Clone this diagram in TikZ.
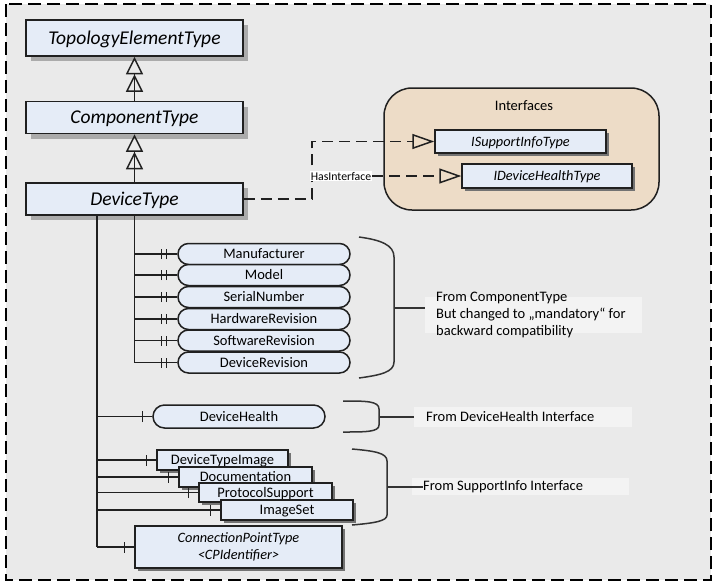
\documentclass[tikz,border=0pt]{standalone}
\usepackage{fontspec}
\setmainfont{Carlito}
\usetikzlibrary{arrows.meta,shadows,decorations.markings}
\definecolor{bg}{HTML}{EAEAEA}
\definecolor{boxfill}{HTML}{E5ECF7}
\definecolor{ifill}{HTML}{EDDCC7}
\definecolor{notefill}{HTML}{F3F3F3}
\definecolor{edgec}{HTML}{202020}
\definecolor{bracec}{HTML}{333333}
\tikzset{
  outer/.style={draw=black, fill=bg, line width=1.7pt, dash pattern=on 13pt off 6pt},
  typebox/.style={draw=edgec, line width=1.5pt, fill=boxfill, inner sep=0pt,
    minimum width=217pt, font=\fontsize{19.5}{22}\selectfont\itshape,
    text height=12.5pt, text depth=0pt,
    drop shadow={shadow xshift=5pt, shadow yshift=-5pt, fill=black!33, opacity=1}},
  ibox/.style={draw=edgec, line width=1.5pt, fill=boxfill, inner sep=0pt,
    font=\fontsize{14.3}{16}\selectfont\itshape, text height=9.2pt, text depth=0pt,
    drop shadow={shadow xshift=3pt, shadow yshift=-3pt, fill=black!55, opacity=1}},
  smallbox/.style={draw=edgec, line width=1.5pt, fill=boxfill, inner sep=0pt,
    font=\fontsize{14.5}{16}\selectfont, text height=9.3pt, text depth=0pt,
    drop shadow={shadow xshift=3pt, shadow yshift=-3pt, fill=black!55, opacity=1}},
  cptbox/.style={draw=edgec, line width=1.5pt, fill=boxfill, inner sep=0pt, align=center,
    font=\fontsize{14.3}{16.5}\selectfont\itshape,
    drop shadow={shadow xshift=3pt, shadow yshift=-3pt, fill=black!55, opacity=1}},
  attr/.style={draw=edgec, line width=1.5pt, fill=boxfill, inner sep=0pt,
    minimum width=172pt, minimum height=21pt, rounded corners=10.5pt,
    font=\fontsize{14.5}{16}\selectfont, text height=9.3pt, text depth=0pt},
  container/.style={draw=edgec, line width=1.5pt, fill=ifill, rounded corners=28pt,
    minimum width=275pt, minimum height=122pt, inner sep=0pt},
  notebox/.style={fill=notefill, inner sep=0pt},
  notetext/.style={inner sep=0pt, anchor=west, align=left, font=\fontsize{14.5}{17}\selectfont},
  conn/.style={draw=edgec, line width=1.5pt},
  gen/.style={conn, -{Triangle[open, length=17.5pt, width=17pt, sep=0pt] Triangle[open, length=17.5pt, width=17pt, sep=0pt]}},
  iface/.style={conn, dash pattern=on 11pt off 6pt, -{Triangle[open, length=22pt, width=15pt]}},
  lab/.style={fill=white, inner sep=1pt, font=\fontsize{11.8}{13}\selectfont},
  sbar/.style={conn, postaction={decorate}, decoration={markings,
    mark=at position -10pt with {\draw[edgec, line width=1.4pt] (0pt,-5.5pt) -- (0pt,5.5pt);}}},
  dbar/.style={conn, postaction={decorate}, decoration={markings,
    mark=at position -11pt with {\draw[edgec, line width=1.4pt] (0pt,-5pt) -- (0pt,5pt);},
    mark=at position -15.5pt with {\draw[edgec, line width=1.4pt] (0pt,-5pt) -- (0pt,5pt);}}},
  brace/.style={draw=bracec, line width=1.5pt}
}
\begin{document}
\begin{tikzpicture}[x=1pt,y=-1pt]
\useasboundingbox (0,0) rectangle (719,584);
\fill[white] (0,0) rectangle (719,584);
\draw[outer] (6,4) rectangle (711,580);

% type hierarchy
\node[typebox, minimum height=36pt] (top) at (134.5,38) {TopologyElementType};
\node[typebox, minimum height=32pt] (comp) at (134.5,117.5) {ComponentType};
\node[typebox, minimum height=32pt] (dev) at (134.5,199) {DeviceType};
\draw[gen] (comp.north) -- (top.south);
\draw[gen] (dev.north) -- (comp.south);

% interfaces
\node[container] (icont) at (521.5,149) {};
\node[font=\fontsize{14.5}{16}\selectfont] (ititle) at (524,106) {Interfaces};
\node[ibox, minimum width=171pt, minimum height=23pt] (isup) at (520.5,141.5) {ISupportInfoType};
\node[ibox, minimum width=170pt, minimum height=24pt] (idh) at (547,176) {IDeviceHealthType};
\coordinate (hi) at (312,176);
\draw[iface] (dev.east) -| (hi) |- (isup.west);
\node[lab] (hasint) at (341,176) {HasInterface};
\draw[iface] (hasint.east) -- (idh.west);

% attributes
\node[attr] (man) at (264,254) {Manufacturer};
\node[attr] (model) at (264,275) {Model};
\node[attr] (serial) at (264,297) {SerialNumber};
\node[attr] (hw) at (264,319) {HardwareRevision};
\node[attr] (sw) at (264,340.5) {SoftwareRevision};
\node[attr] (drev) at (264,362.5) {DeviceRevision};
\draw[conn] (dev.south) -- (dev.south |- drev.west);
\foreach \n in {man,model,serial,hw,sw,drev}
  \draw[dbar] (dev.south |- \n.west) -- (\n.west);

\node[attr, minimum height=23pt, rounded corners=11.5pt] (dh) at (239,416.5) {DeviceHealth};

\node[smallbox, minimum width=131pt, minimum height=20pt] (dti) at (222.5,460) {DeviceTypeImage};
\node[smallbox, minimum width=133pt, minimum height=20pt] (doc) at (245.5,477) {Documentation};
\node[smallbox, minimum width=133pt, minimum height=19pt] (ps) at (265.5,492.5) {ProtocolSupport};
\node[smallbox, minimum width=132pt, minimum height=20pt] (imgs) at (287,510) {ImageSet};
\node[cptbox, minimum width=207pt, minimum height=42pt] (cpt) at (238.5,547)
  {ConnectionPointType\\<CPIdentifier>};

\coordinate (trunkB) at (97,215);
\draw[conn] (trunkB) -- (trunkB |- cpt.west);
\foreach \n in {dh,dti,doc,ps,imgs,cpt}
  \draw[sbar] (trunkB |- \n.west) -- (\n.west);

% notes and braces
\node[notebox, minimum width=217pt, minimum height=36pt] (n1box) at (533.5,315) {};
\node[notetext] (n1) at (436,315) {From ComponentType\\But changed to „mandatory“ for\\backward compatibility};
\node[notebox, minimum width=218pt, minimum height=20pt] (n2box) at (523,417) {};
\node[notetext] (n2) at (426,417) {From DeviceHealth Interface};
\node[notebox, minimum width=217pt, minimum height=17pt] (n3box) at (520.5,486.5) {};
\node[notetext] (n3) at (423,487) {From SupportInfo Interface};

\draw[brace] (359,237) .. controls (381,240) and (394,245) .. (394,257) -- (394,362) .. controls (394,372) and (381,375) .. (359,378);
\coordinate (b1) at (394,308);
\draw[brace] (b1) -- (b1 -| n1box.west);

\draw[brace] (343,401) .. controls (366,401) and (379,401) .. (379,409) -- (379,425) .. controls (379,432) and (366,432) .. (343,432);
\coordinate (b2) at (379,417);
\draw[brace] (b2) -- (n2box.west);

\draw[brace] (352,449) .. controls (375,451) and (387,453) .. (387,461) -- (387,515) .. controls (387,521) and (375,523) .. (352,525);
\coordinate (b3) at (387,487);
\draw[brace] (b3) -- (n3.west);
\end{tikzpicture}
\end{document}
